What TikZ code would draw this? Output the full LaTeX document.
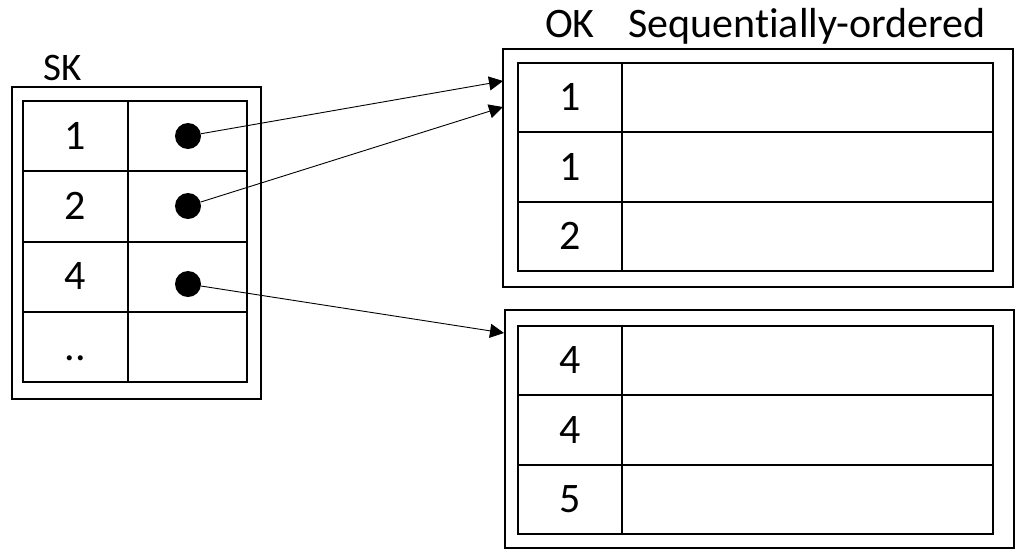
\documentclass[tikz,border=0pt]{standalone}
\usepackage{fontspec}
\setmainfont{Carlito}[Ligatures=NoCommon]
\usetikzlibrary{arrows.meta}
\tikzset{
  box/.style={draw,line width=1.9pt},
  cell/.style={draw,line width=1.9pt,inner sep=0pt,text height=26.5pt,text depth=0pt,
    font=\fontsize{42}{44}\selectfont},
  keycell/.style={cell,minimum width=105pt,minimum height=70.3pt},
  valcell/.style={cell,minimum width=119pt,minimum height=70.3pt},
  okcell/.style={cell,minimum width=104pt,minimum height=69.3pt},
  seqcell/.style={cell,minimum width=371pt,minimum height=69.3pt},
  title/.style={anchor=base,inner sep=0pt,font=\fontsize{42}{44}\selectfont},
  ptr/.style={circle,fill,inner sep=0pt,minimum size=26pt},
  link/.style={line width=0.9pt,-{Triangle[length=14pt,width=14pt]}}
}
\begin{document}
\begin{tikzpicture}[x=1pt,y=-1pt]
      \useasboundingbox (0,0) rectangle (1024,558);
      % secondary key index
      \draw[box] (12,87) rectangle (261,399);
      \node[title,font=\fontsize{39}{41}\selectfont] (sk) at (63,80) {SK};
      \draw
        (75.5,136.1) node[keycell] (k1){1}
        (75.5,206.4) node[keycell] (k2){2}
        (75.5,276.6) node[keycell] (k4){4}
        (75.5,346.9) node[keycell] (kx){..}
        (187.5,136.1) node[valcell] (v1){}
        (187.5,206.4) node[valcell] (v2){}
        (187.5,276.6) node[valcell] (v4){}
        (187.5,346.9) node[valcell] (vx){};
      \node[ptr] (p1) at (188,136) {};
      \node[ptr] (p2) at (188,206) {};
      \node[ptr] (p4) at (188,284) {};
      % sequentially-ordered blocks
      \node[title] (ok) at (570,37) {OK};
      \node[title] (seq) at (807,37) {Sequentially-ordered};
      \draw[box] (503,49) rectangle (1013,287);
      \draw
        (570,97.7) node[okcell] (a1){1}
        (570,167) node[okcell] (a2){1}
        (570,236.3) node[okcell] (a3){2}
        (807.5,97.7) node[seqcell] (s1){}
        (807.5,167) node[seqcell] (s2){}
        (807.5,236.3) node[seqcell] (s3){};
      \draw[box] (505,310) rectangle (1014,548);
      \draw
        (570,360.7) node[okcell] (b1){4}
        (570,430) node[okcell] (b2){4}
        (570,499.3) node[okcell] (b3){5}
        (807.5,360.7) node[seqcell] (t1){}
        (807.5,430) node[seqcell] (t2){}
        (807.5,499.3) node[seqcell] (t3){};
      \coordinate (e1) at (503,81);
      \coordinate (e2) at (503,107);
      \coordinate (e4) at (504,333);
      \begin{scope}[link]
        \draw (p1) to (e1);
        \draw (p2) to (e2);
        \draw (p4) to (e4);
      \end{scope}
    \end{tikzpicture}
\end{document}
